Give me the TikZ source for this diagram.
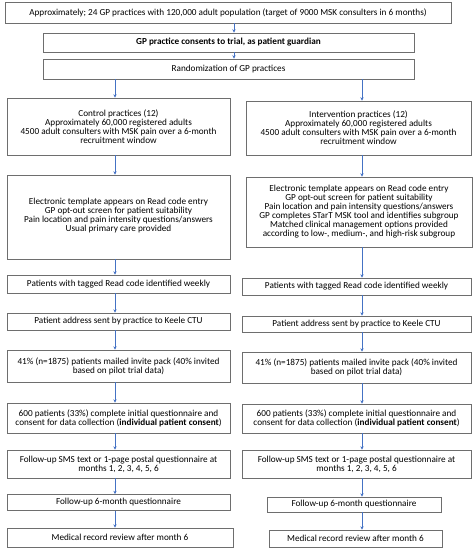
\documentclass[tikz,border=0pt]{standalone}
\usepackage{fontspec}
\setmainfont{Carlito}
\usetikzlibrary{arrows.meta}
\definecolor{boxgray}{RGB}{110,110,110}
\definecolor{arrowblue}{RGB}{68,114,196}
\begin{document}
\begin{tikzpicture}[x=1pt,y=-1pt,
  box/.style={draw=boxgray,line width=0.75pt,fill=white,align=center,inner sep=1pt,
    font=\fontsize{9.2}{9}\selectfont,text=black},
  arr/.style={draw=arrowblue,line width=0.6pt,-{Stealth[length=3.4pt,width=3.4pt]}}]
\useasboundingbox (0,0) rectangle (474,554);
\coordinate (cl) at (115,0);
\coordinate (cr) at (362,0);
\coordinate (cm) at (234,0);
% top
\node[box,minimum width=446pt,minimum height=21pt] (top) at (228,12.5) {Approximately; 24 GP practices with 120,000 adult population (target of 9000 MSK consulters in 6 months)};
\node[box,minimum width=371pt,minimum height=19pt] (cons) at (228.5,42.5) {\textbf{GP practice consents to trial, as patient guardian}};
\node[box,minimum width=371pt,minimum height=20pt] (rand) at (228.5,69) {Randomization of GP practices};
% left column
\node[box,minimum width=223pt,minimum height=57pt] (ctrl) at (118.5,126.5) {Control practices (12)\\Approximately 60,000 registered adults\\4500 adult consulters with MSK pain over a 6-month\\recruitment window};
\node[box,minimum width=223pt,minimum height=84pt] (tmplL) at (118.5,217) {Electronic template appears on Read code entry\\GP opt-out screen for patient suitability\\Pain location and pain intensity questions/answers\\Usual primary care provided\\[-5pt]};
\node[box,minimum width=223pt,minimum height=18pt] (tagL) at (118.5,284) {Patients with tagged Read code identified weekly};
\node[box,minimum width=223pt,minimum height=17pt] (addrL) at (118.5,321.5) {Patient address sent by practice to Keele CTU};
\node[box,minimum width=223pt,minimum height=32pt] (invL) at (118.5,366) {41\% (n=1875) patients mailed invite pack (40\% invited\\based on pilot trial data)};
\node[box,minimum width=223pt,minimum height=30pt] (qL) at (118.5,418) {600 patients (33\%) complete initial questionnaire and\\consent for data collection (\textbf{individual patient consent})};
\node[box,minimum width=223pt,minimum height=28pt] (smsL) at (118.5,464) {Follow-up SMS text or 1-page postal questionnaire at\\months 1, 2, 3, 4, 5, 6};
\node[box,minimum width=223pt,minimum height=16pt] (fuL) at (118.5,502.5) {Follow-up 6-month questionnaire};
\node[box,minimum width=226pt,minimum height=19pt] (medL) at (120,537.5) {Medical record review after month 6};
% right column
\node[box,minimum width=225pt,minimum height=54pt] (intv) at (358.5,128) {Intervention practices (12)\\Approximately 60,000 registered adults\\4500 adult consulters with MSK pain over a 6-month\\recruitment window};
\node[box,minimum width=226pt,minimum height=70pt] (tmplR) at (359,212) {Electronic template appears on Read code entry\\GP opt-out screen for patient suitability\\Pain location and pain intensity questions/answers\\GP completes STarT MSK tool and identifies subgroup\\Matched clinical management options provided\\according to low-, medium-, and high-risk subgroup};
\node[box,minimum width=229pt,minimum height=17pt] (tagR) at (356.5,286.5) {Patients with tagged Read code identified weekly};
\node[box,minimum width=229pt,minimum height=16pt] (addrR) at (356.5,324) {Patient address sent by practice to Keele CTU};
\node[box,minimum width=229pt,minimum height=31pt] (invR) at (356.5,367.5) {41\% (n=1875) patients mailed invite pack (40\% invited\\based on pilot trial data)};
\node[box,minimum width=229pt,minimum height=29pt] (qR) at (356.5,418.5) {600 patients (33\%) complete initial questionnaire and\\consent for data collection (\textbf{individual patient consent})};
\node[box,minimum width=229pt,minimum height=28pt] (smsR) at (356.5,464) {Follow-up SMS text or 1-page postal questionnaire at\\months 1, 2, 3, 4, 5, 6};
\node[box,minimum width=174pt,minimum height=15pt] (fuR) at (354,504.5) {Follow-up 6-month questionnaire};
\node[box,minimum width=173pt,minimum height=17pt] (medR) at (355.5,538.5) {Medical record review after month 6};
% arrows
\draw[arr] (top.south -| cm) -- (cons.north -| cm);
\draw[arr] (cons.south -| cm) -- (rand.north -| cm);
\draw[arr] (rand.south -| cl) -- (ctrl.north -| cl);
\draw[arr] (rand.south -| cr) -- (intv.north -| cr);
\foreach \a/\b in {ctrl/tmplL,tmplL/tagL,tagL/addrL,addrL/invL,invL/qL,qL/smsL,smsL/fuL,fuL/medL}
  \draw[arr] (\a.south -| cl) -- (\b.north -| cl);
\foreach \a/\b in {intv/tmplR,tmplR/tagR,tagR/addrR,addrR/invR,invR/qR,qR/smsR,smsR/fuR,fuR/medR}
  \draw[arr] (\a.south -| cr) -- (\b.north -| cr);
\end{tikzpicture}
\end{document}
